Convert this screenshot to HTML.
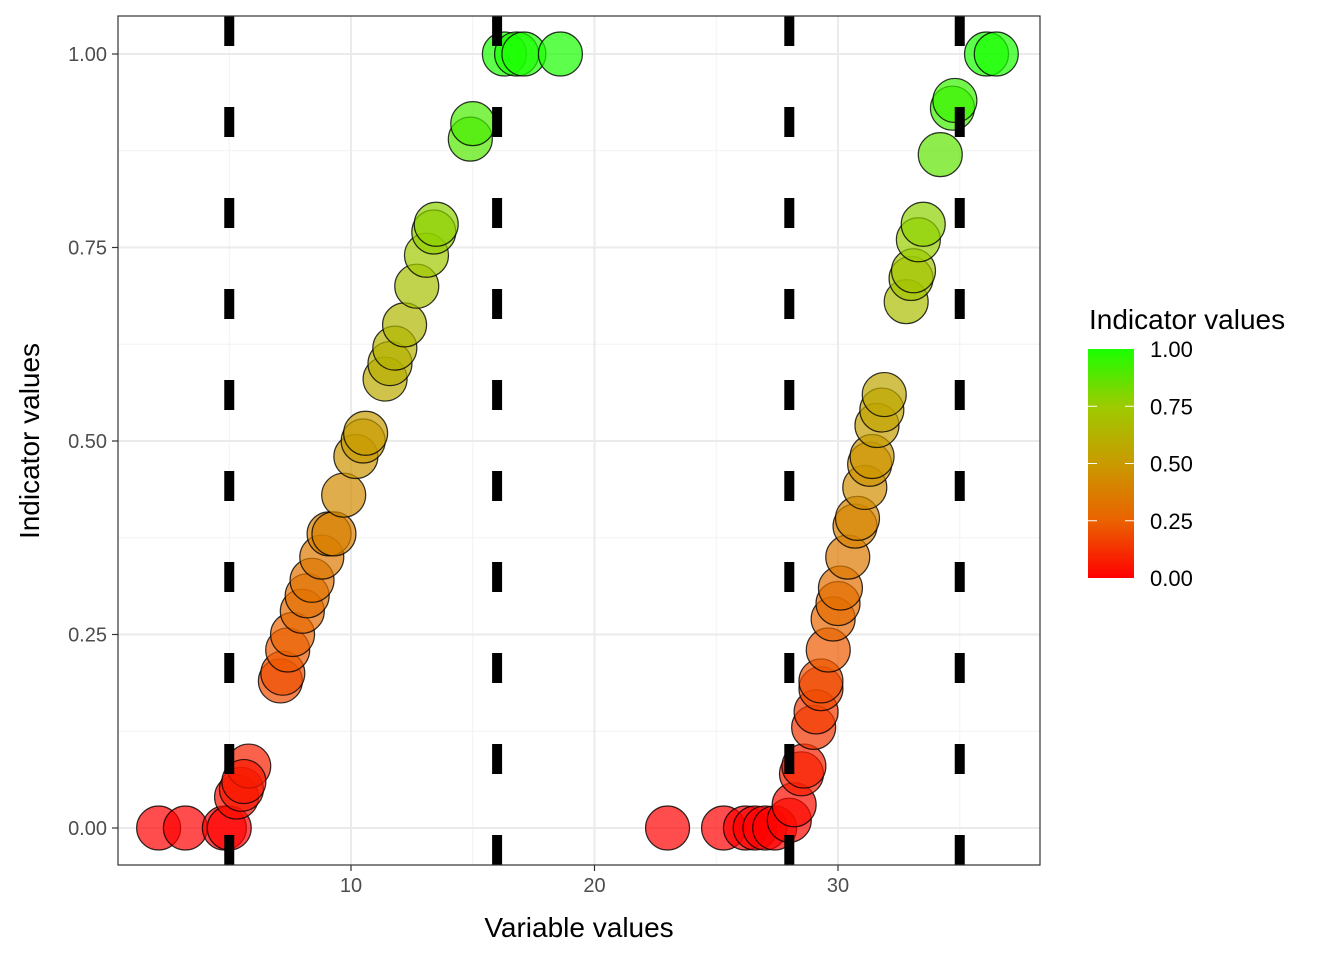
<!DOCTYPE html>
<html><head><meta charset="utf-8"><style>
body{margin:0;background:#fff;font-family:"Liberation Sans",sans-serif}
</style></head><body>
<svg id="chart" width="1344" height="960" xmlns="http://www.w3.org/2000/svg" font-family="Liberation Sans, sans-serif">
<defs>
<linearGradient id="cg" x1="0" y1="1" x2="0" y2="0">
<stop offset="0" stop-color="#ff0000"/><stop offset="0.25" stop-color="#ea6200"/><stop offset="0.5" stop-color="#c99a00"/><stop offset="0.75" stop-color="#9dcb00"/><stop offset="1" stop-color="#1aff00"/>
</linearGradient>
</defs>
<rect x="118" y="16" width="922" height="849" fill="#fff"/>
<g id="grid"></g>
<g id="points"></g>
<g id="vlines"></g>
<rect x="118" y="16" width="922" height="849" fill="none" stroke="#333" stroke-width="1.2"/>
<g id="axes"></g>
<text x="579" y="937" font-size="28" text-anchor="middle" fill="#000">Variable values</text>
<text transform="translate(39,441) rotate(-90)" font-size="28" text-anchor="middle" fill="#000">Indicator values</text>
<g>
<text x="1089" y="329" font-size="28" fill="#000">Indicator values</text>
<rect x="1088" y="349" width="46" height="229" fill="url(#cg)"/>
<g id="legticks"></g>
</g>
</svg>
<script>
const xTicks=[10,20,30];
const yTicks=[0,0.25,0.5,0.75,1];
const yTickLabels=["0.00","0.25","0.50","0.75","1.00"];
const cutoffs=[5,16,28,35];
const xVals=[2.1,3.2,4.8,5.0,5.3,5.5,5.8,5.6,7.1,7.2,7.4,7.6,8.0,8.2,8.4,8.8,9.1,9.3,9.7,10.2,10.5,10.6,11.4,11.6,11.8,12.2,12.7,13.1,13.4,13.5,14.9,15.0,16.3,16.8,17.1,18.6,
23.0,25.3,26.2,26.6,27.0,27.4,28.0,28.2,28.5,28.6,29.0,29.1,29.3,29.3,29.6,29.8,30.0,30.1,30.4,30.7,30.8,31.1,31.3,31.4,31.6,31.8,31.9,32.8,33.0,33.1,33.3,33.5,34.2,34.7,34.8,36.1,36.5];
const yVals=[0,0,0,0,0.04,0.05,0.08,0.06,0.19,0.20,0.23,0.25,0.28,0.30,0.32,0.35,0.38,0.38,0.43,0.48,0.50,0.51,0.58,0.60,0.62,0.65,0.70,0.74,0.77,0.78,0.89,0.91,1,1,1,1,
0,0,0,0,0,0,0.01,0.03,0.07,0.08,0.13,0.15,0.18,0.19,0.23,0.27,0.29,0.31,0.35,0.39,0.40,0.44,0.47,0.48,0.52,0.54,0.56,0.68,0.71,0.72,0.76,0.78,0.87,0.93,0.94,1,1];
const NS="http://www.w3.org/2000/svg";
const X0=118,X1=1040,Y0=16,Y1=865;
const xs=v=>107.5+v*24.35;
const ys=v=>828-v*774;
function mk(t,a,p){const e=document.createElementNS(NS,t);for(const k in a)e.setAttribute(k,a[k]);p.appendChild(e);return e;}
function col(v){const st=[[0,[255,0,0]],[0.25,[234,98,0]],[0.5,[201,154,0]],[0.75,[157,203,0]],[1,[26,255,0]]];
for(let i=0;i<st.length-1;i++){if(v<=st[i+1][0]){const t=(v-st[i][0])/(st[i+1][0]-st[i][0]);const c=st[i][1].map((a,j)=>Math.round(a+(st[i+1][1][j]-a)*t));return `rgb(${c})`;}}return "rgb(26,255,0)";}
const g=document.getElementById('grid');
[5,15,25,35].forEach(v=>{const l=mk('line',{x1:xs(v),x2:xs(v),y1:Y0,y2:Y1,stroke:'#f2f2f2','stroke-width':1},g);
});
[0.125,0.375,0.625,0.875].forEach(v=>{const l=mk('line',{x1:X0,x2:X1,y1:ys(v),y2:ys(v),stroke:'#f2f2f2','stroke-width':1},g);
});
xTicks.forEach(v=>{const l=mk('line',{x1:xs(v),x2:xs(v),y1:Y0,y2:Y1,stroke:'#ebebeb','stroke-width':2},g);
});
yTicks.forEach(v=>{const l=mk('line',{x1:X0,x2:X1,y1:ys(v),y2:ys(v),stroke:'#ebebeb','stroke-width':2},g);
});
const pg=document.getElementById('points');
xVals.forEach((x,i)=>{const c=mk('circle',{cx:xs(x),cy:ys(yVals[i]),r:22,fill:col(yVals[i]),'fill-opacity':0.7,stroke:'#000','stroke-opacity':0.8,'stroke-width':1.2},pg);
});
const vl=document.getElementById('vlines');
cutoffs.forEach(v=>{const l=mk('line',{x1:xs(v),x2:xs(v),y1:Y0,y2:Y1,stroke:'#000','stroke-width':10,'stroke-dasharray':'30 61'},vl);
});
const ax=document.getElementById('axes');
xTicks.forEach(v=>{mk('line',{x1:xs(v),x2:xs(v),y1:Y1,y2:Y1+6,stroke:'#333','stroke-width':1.2},ax);
const t=mk('text',{x:xs(v),y:Y1+27,'font-size':20,'text-anchor':'middle',fill:'#4d4d4d'},ax);t.textContent=v;
});
yTicks.forEach((v,i)=>{mk('line',{x1:X0-6,x2:X0,y1:ys(v),y2:ys(v),stroke:'#333','stroke-width':1.2},ax);
const t=mk('text',{x:X0-11,y:ys(v)+7,'font-size':20,'text-anchor':'end',fill:'#4d4d4d'},ax);t.textContent=yTickLabels[i];
});
const lt=document.getElementById('legticks');
yTicks.forEach((v,i)=>{const y=578-v*229;
if(v>0&&v<1){mk('line',{x1:1088,x2:1097,y1:y,y2:y,stroke:'#fff','stroke-width':1},lt);mk('line',{x1:1125,x2:1134,y1:y,y2:y,stroke:'#fff','stroke-width':1},lt);}
const t=mk('text',{x:1150,y:y+8,'font-size':22,fill:'#000'},lt);t.textContent=yTickLabels[i];
});
</script>
</body></html>
